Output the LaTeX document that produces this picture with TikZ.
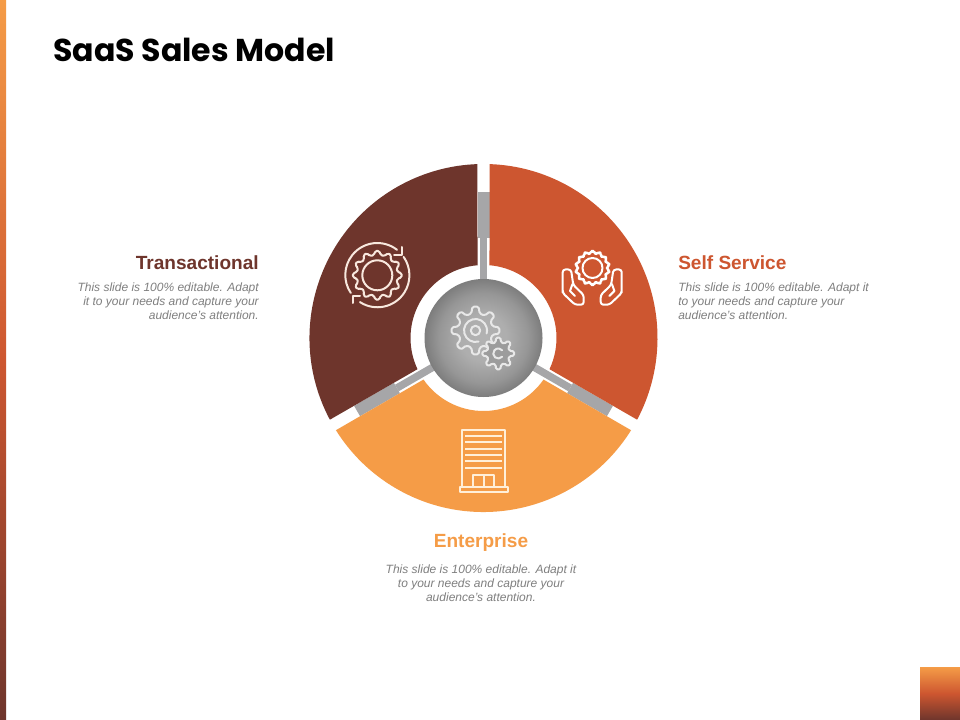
\documentclass[tikz,border=0pt]{standalone}
\usepackage{fontspec}
\setmainfont{Liberation Sans}
\newfontfamily\titlefont{Poppins}
\usetikzlibrary{shadings,calc}
\definecolor{brownc}{HTML}{6E352C}
\definecolor{redc}{HTML}{CD5630}
\definecolor{orangec}{HTML}{F59C47}
\definecolor{barc}{HTML}{A6A6A8}
\definecolor{textc}{HTML}{7F7F7F}
\definecolor{iconb}{HTML}{F8E8DE}
\definecolor{iconw}{HTML}{E8E8E8}
\definecolor{icono}{HTML}{FFEFD9}
\definecolor{hubfill}{HTML}{9C9C9C}
\pgfdeclareverticalshading{stripshade}{100bp}{color(0bp)=(brownc);color(25bp)=(brownc);color(50bp)=(redc);color(75bp)=(orangec);color(100bp)=(orangec)}
\pgfdeclareradialshading{hubshade}{\pgfpoint{0bp}{0bp}}{color(0bp)=(white!70!black);color(10bp)=(white!68!black);color(19bp)=(white!59!black);color(25bp)=(white!49!black);color(50bp)=(white!49!black)}
\tikzset{
  x=0.75pt,y=-0.75pt,
  headlabel/.style={font=\fontsize{14.3pt}{17pt}\selectfont\bfseries,inner sep=0pt},
  bodylabel/.style={font=\fontsize{9pt}{10.5pt}\selectfont\itshape,text=textc,inner sep=0pt},
  iconline/.style={draw=white,line width=1.5pt,line join=round,line cap=round},
}
\newcommand{\cog}[6]{% style, cx, cy, rin, rout, teeth
  \pgfmathsetmacro{\gs}{360/#6}
  \pgfmathsetmacro{\ga}{\gs*0.17}
  \pgfmathsetmacro{\gb}{\gs*0.30}
  \draw[#1] \foreach \k [evaluate=\k as \th using \k*\gs-90] in {1,...,#6} {
     \ifnum\k=1 ({#2+#4*cos(\th-\gb)},{#3+#4*sin(\th-\gb)}) \else -- ({#2+#4*cos(\th-\gb)},{#3+#4*sin(\th-\gb)}) \fi
     -- ({#2+#5*cos(\th-\ga)},{#3+#5*sin(\th-\ga)})
     -- ({#2+#5*cos(\th+\ga)},{#3+#5*sin(\th+\ga)})
     -- ({#2+#4*cos(\th+\gb)},{#3+#4*sin(\th+\gb)})
  } -- cycle;
}
\begin{document}
\begin{tikzpicture}
\useasboundingbox (0,0) rectangle (960,720);
\fill[white] (0,0) rectangle (960,720);
% side strip and corner box
\shade[shading=stripshade] (0,0) rectangle (6,720);
\shade[shading=stripshade] (920,667) rectangle (960,720);
\node[anchor=base west,inner sep=0pt,font=\fontsize{23.7pt}{28pt}\selectfont\titlefont\bfseries] (title) at (53,62) {SaaS Sales Model};
\coordinate (c) at (483.5,338);
\begin{scope}[shift={(c)}]
% connector bars (rotate turns counter-clockwise on the page)
\foreach \a in {90,210,330}{
  \begin{scope}[rotate=\a]
    \fill[barc] (75pt,-4.5pt) rectangle (109.5pt,4.5pt);
    \fill[barc] (41pt,-2.8pt) rectangle (75pt,2.8pt);
  \end{scope}}
% segments (y axis points down, so angles run clockwise on the page)
\fill[redc] (-88:174) arc[start angle=-88,end angle=28,radius=174] -- (25.3:73) arc[start angle=25.3,end angle=-85.3,radius=73] -- cycle;
\fill[orangec] (32:174) arc[start angle=32,end angle=148,radius=174] -- (145.3:73) arc[start angle=145.3,end angle=34.7,radius=73] -- cycle;
\fill[brownc] (152:174) arc[start angle=152,end angle=268,radius=174] -- (265.3:73) arc[start angle=265.3,end angle=154.7,radius=73] -- cycle;
% hub
\shade[shading=hubshade] (0,0) circle (59);
\end{scope}
% hub gears
\cog{iconline,draw=iconw,rounded corners=1.2pt}{475.5}{330.5}{17.5}{24}{8}
\draw[iconline,draw=iconw] (478.5,341.6) arc[start angle=75,end angle=375,radius=11.5];
\draw[iconline,draw=iconw] (475.5,330.5) circle (4.7);
\cog{iconline,draw=iconw,fill=hubfill,rounded corners=1pt}{498.3}{353.5}{11.5}{16}{8}
\draw[iconline,draw=iconw] (502.1,356.7) arc[start angle=40,end angle=320,radius=5];
% transactional icon
\cog{iconline,draw=iconb,rounded corners=1.2pt}{377.3}{275.3}{20.5}{24.5}{12}
\draw[iconline,draw=iconb] (377.3,275.3) circle (15);
\draw[iconline,draw=iconb] (397,249.8) arc[start angle=-52,end angle=-214,radius=32];
\draw[iconline,draw=iconb] (360,302.1) arc[start angle=123,end angle=-35,radius=32];
\draw[iconline,draw=iconb] (402,247) -- (402,255) -- (394,255);
\draw[iconline,draw=iconb] (352.7,303) -- (352.7,296) -- (360,296);
% self service icon
\cog{iconline,rounded corners=1.5pt}{592.5}{268}{14.5}{17.3}{14}
\draw[iconline] (592.5,268) circle (10);
\draw[iconline,rounded corners=2pt] (562.7,290) -- (562.7,269.5) -- (571,269.5) -- (573.3,285) -- (583.7,295) -- (583.7,304.7) -- (575,304.7) -- (562.7,293) -- cycle;
\draw[iconline,rounded corners=2pt] (621.7,290) -- (621.7,269.5) -- (613.4,269.5) -- (611.1,285) -- (600.7,295) -- (600.7,304.7) -- (609.4,304.7) -- (621.7,293) -- cycle;
\draw[iconline] (572.5,284) -- (570,291) -- (575,296);
\draw[iconline] (611.9,284) -- (614.4,291) -- (609.4,296);
% enterprise icon
\draw[iconline,draw=icono,line cap=butt] (461.7,430) rectangle (505,487);
\draw[iconline,draw=icono,line cap=butt] (459.5,487) rectangle (507.5,492.3);
\foreach \yy in {435.5,442,448.7,454.7,461.3,467.5}{\draw[iconline,draw=icono,line cap=butt] (465,\yy) -- (501.5,\yy);}
\draw[iconline,draw=icono,line cap=butt] (473.3,487) -- (473.3,475) -- (494.3,475) -- (494.3,487);
\draw[iconline,draw=icono,line cap=butt] (483.5,475) -- (483.5,487);
% labels
\node[headlabel,text=brownc,anchor=east] (tr) at (259,262.5) {Transactional};
\node[bodylabel,align=right,anchor=north east] (trb) at (259,282.5) {This slide is 100\% editable. Adapt\\it to your needs and capture your\\audience's attention.};
\node[headlabel,text=redc,anchor=west] (ss) at (678,262.5) {Self Service};
\node[bodylabel,align=left,anchor=north west] (ssb) at (678,282.5) {This slide is 100\% editable. Adapt it\\to your needs and capture your\\audience's attention.};
\node[headlabel,text=orangec,anchor=center] (en) at (481,542.5) {Enterprise};
\node[bodylabel,align=center,anchor=north] (enb) at (481,564.5) {This slide is 100\% editable. Adapt it\\to your needs and capture your\\audience's attention.};
\end{tikzpicture}
\end{document}
